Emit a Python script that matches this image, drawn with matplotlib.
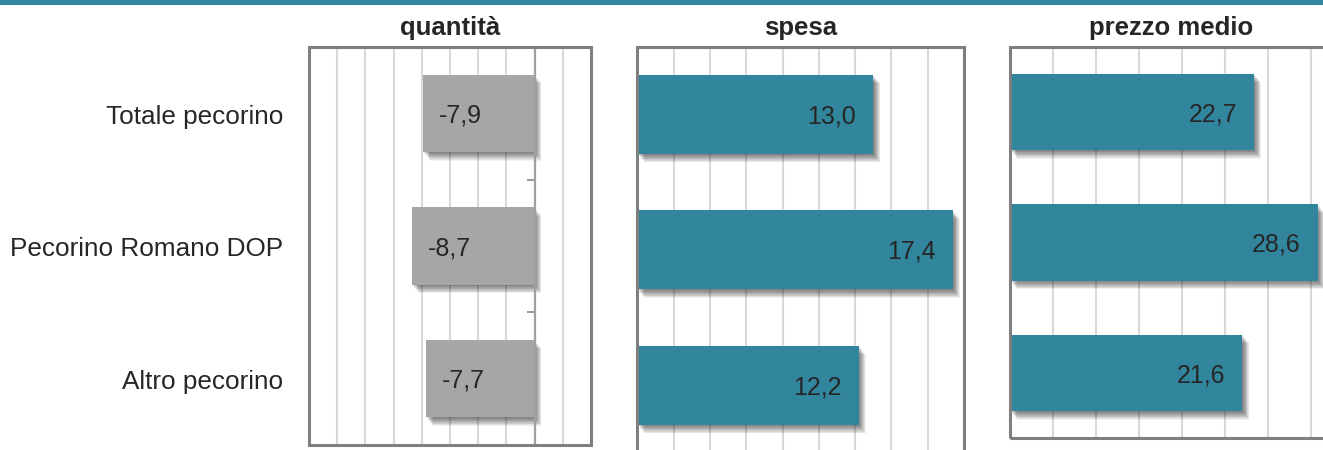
import matplotlib
matplotlib.use("Agg")
import matplotlib.pyplot as plt
import matplotlib.patheffects as pe
from matplotlib.patches import Rectangle

plt.rcParams["font.family"] = ["Liberation Sans", "DejaVu Sans"]

# Data: percentage change by product
categories = ["Totale pecorino", "Pecorino Romano DOP", "Altro pecorino"]
titles = ["quantità", "spesa", "prezzo medio"]
quantita = [-7.9, -8.7, -7.7]
spesa = [13.0, 17.4, 12.2]
prezzo_medio = [22.7, 28.6, 21.6]

W, H = 1323, 450
fig = plt.figure(figsize=(W / 100, H / 100), dpi=100)
fig.patch.set_facecolor("white")

TEAL = "#31859c"
GREY_BAR = "#a6a6a6"
GRID = "#d9d9d9"
BORDER = "#7f7f7f"
TXT = "#262626"


def px_axes(left, right, top, bottom):
    return fig.add_axes([left / W, 1 - bottom / H, (right - left) / W, (bottom - top) / H])


def fmt(v):
    return f"{v:.1f}".replace(".", ",")


# soft drop shadow built from stacked, progressively offset copies
shadow = [pe.SimplePatchShadow(offset=(0.45 * k, -0.55 * k), shadow_rgbFace="black", alpha=0.055)
          for k in range(1, 12)] + [pe.Normal()]

# header band
fig.add_artist(Rectangle((0, 1 - 5 / H), 1, 5 / H, transform=fig.transFigure,
                         facecolor=TEAL, edgecolor="none"))

specs = [
    (quantita, (309, 591, 47, 445), (-16, 4), 2, GREY_BAR),
    (spesa, (637.3, 964, 46.7, 453), (0, 18), 2, TEAL),
    (prezzo_medio, (1010, 1354.3, 46.7, 438.3), (0, 32), 4, TEAL),
]

axes = []
for i, (vals, box, xlim, step, color) in enumerate(specs):
    ax = px_axes(*box)
    axes.append(ax)
    ax.set_xlim(*xlim)
    ax.set_ylim(len(categories) - 0.5, -0.5)
    ax.set_xticks(range(xlim[0], xlim[1] + 1, step))
    ax.grid(axis="x", color=GRID, linewidth=1.5, zorder=0)
    ax.set_axisbelow(True)
    ax.tick_params(axis="x", length=0, labelbottom=False)
    for s in ax.spines.values():
        s.set_visible(False)
    ax.add_patch(Rectangle((0, 0), 1, 1, transform=ax.transAxes, fill=False,
                           edgecolor=BORDER, linewidth=2.2, zorder=5, clip_on=False))

    ypos = list(range(len(categories)))
    bars = ax.barh(ypos, vals, height=0.585, color=color, zorder=2)
    for b in bars:
        b.set_path_effects(shadow)

    for y, v in zip(ypos, vals):
        if v < 0:
            ax.annotate(fmt(v), (v, y), xytext=(11.5, -1.5), textcoords="offset points",
                        ha="left", va="center", fontsize=18, color=TXT, zorder=4)
        else:
            ax.annotate(fmt(v), (v, y), xytext=(-12.5, -1.5), textcoords="offset points",
                        ha="right", va="center", fontsize=18, color=TXT, zorder=4)

    if xlim[0] < 0:
        sp = ax.spines["left"]
        sp.set_visible(True)
        sp.set_position(("data", 0))
        sp.set_color("#a0a0a0")
        sp.set_linewidth(1.6)
        sp.set_zorder(3)
        ax.set_yticks([0.5, 1.5])
        ax.tick_params(axis="y", length=6, width=1.3, color="#909090", labelleft=False)
    else:
        ax.set_yticks([])

    cx = (box[0] + min(box[1], 1332)) / 2
    fig.text(cx / W, 1 - 27.5 / H, titles[i], ha="center", va="center",
             fontsize=18.5, fontweight="bold", color=TXT)

# category labels aligned to the first panel's rows
ax0 = axes[0]
for y, name in enumerate(categories):
    ax0.annotate(name, (0, y), xycoords=("axes fraction", "data"),
                 xytext=(-26 * 0.72, -2.5), textcoords="offset points",
                 ha="right", va="center", fontsize=18.8, color=TXT, annotation_clip=False)

fig.savefig("out.png", dpi=100)
